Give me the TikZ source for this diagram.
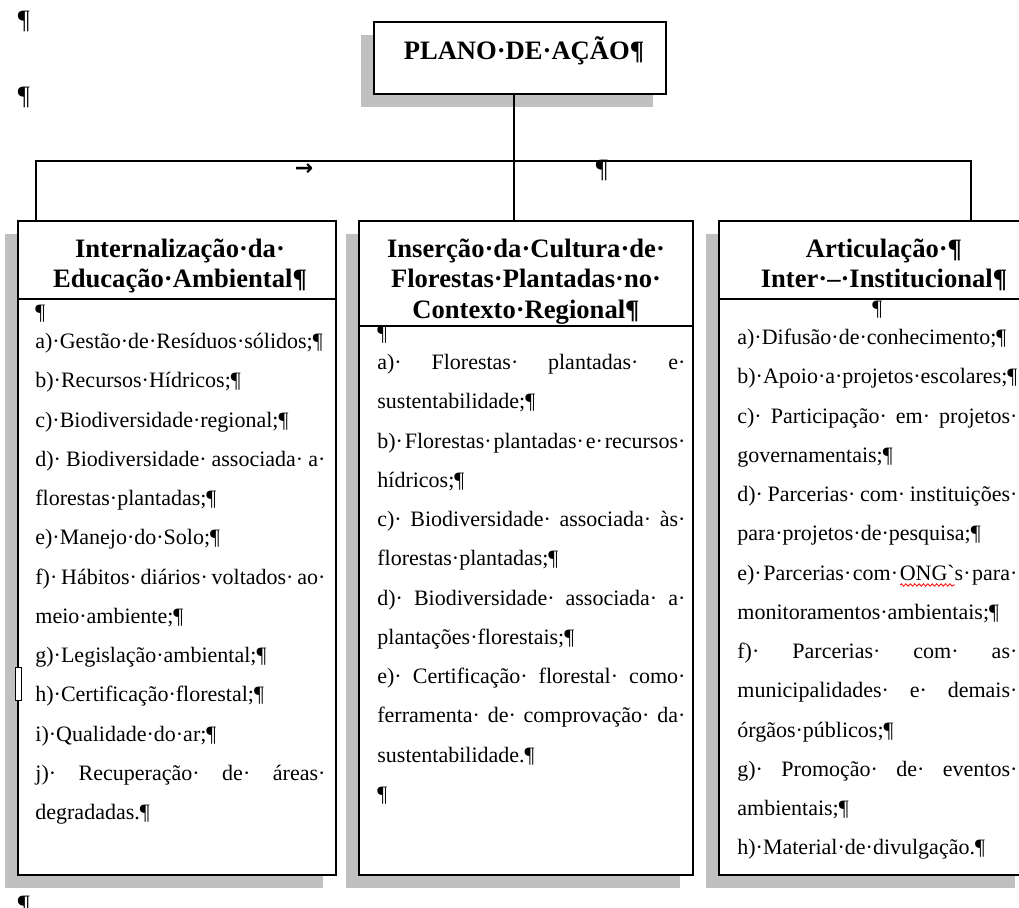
\documentclass[tikz,border=0pt]{standalone}
\usepackage{fontspec}
\setmainfont{Liberation Serif}
\newfontfamily\plainfont{Liberation Serif}
\newfontfamily\arrowfont{DejaVu Sans}
\usetikzlibrary{positioning,shadows,decorations.pathmorphing}

\definecolor{shadegray}{RGB}{192,192,192}
% space mark of the word processor, stretched on justified lines
\newcommand{\sd}{·\hskip 0pt plus 1fil\relax}
\newcommand{\jline}[1]{\par\hbox to\hsize{\strut#1\unskip}}
\newcommand{\pline}[1]{\par\hbox{\strut#1}}
\newcommand{\mline}[1]{\par\hbox to\hsize{\hfil\strut#1\hfil}}
\newlength{\wavelen}
\newcommand{\redwave}[1]{\settowidth{\wavelen}{#1}%
	\rlap{\tikz[baseline=0pt]\draw[red,line width=0.4pt,decorate,
		decoration={snake,amplitude=0.6pt,segment length=2.2pt}]
		(0pt,-2.4pt) -- (\wavelen,-2.4pt);}#1}

\begin{document}
\begin{tikzpicture}[x=0.5pt,y=-0.5pt,
	box/.style={draw=black,line width=0.75pt,fill=white,inner sep=0pt,
		drop shadow={shadow xshift=-6.5pt,shadow yshift=-6.5pt,fill=shadegray,opacity=1}},
	headtext/.style={inner sep=0pt,anchor=north,text width=150pt,align=center,
		font=\bfseries\fontsize{13.3pt}{15.25pt}\selectfont},
	bodytext/.style={inner sep=0pt,anchor=north west,
		font=\fontsize{11pt}{19.625pt}\selectfont},
	link/.style={draw=black,line width=0.7pt},
	rule/.style={draw=black,line width=0.75pt},
	fmark/.style={inner sep=0pt,font=\fontsize{13.3pt}{15pt}\selectfont}]
	\useasboundingbox (0,0) rectangle (1019,908);
	
	% boxes
	\node[box,minimum width=146pt,minimum height=36pt] (plano) at (520,58) {};
	\node[box,minimum width=159pt,minimum height=327pt] (intbox) at (177,548) {};
	\node[box,minimum width=167pt,minimum height=327pt] (insbox) at (526,548) {};
	\node[box,minimum width=154.5pt,minimum height=327pt] (artbox) at (873.5,548) {};
	
	\draw[rule] (intbox.west |- 0,299) -- (intbox.east |- 0,299);
	\draw[rule] (insbox.west |- 0,326) -- (insbox.east |- 0,326);
	\draw[rule] (artbox.west |- 0,299) -- (artbox.east |- 0,299);
	\draw[line width=0.5pt,fill=white] (15.5,668) rectangle (21,701);
	
	% connectors
	\coordinate (barL) at (36,161);
	\coordinate (barR) at (971,161);
	\coordinate (trunk) at (514,161);
	\draw[link] (plano.south -| trunk) -- (trunk) -- (trunk |- insbox.north);
	\draw[link] (barL |- intbox.north) -- (barL) -- (barR) -- (barR |- artbox.north);
	
	% titles
	\node[headtext] (planotitle) at (524,36.6) {\strut PLANO·DE·AÇÃO¶};
	\node[headtext] (inthead) at (180,235.6)
	{\strut Internalização·da·\\\strut Educação·Ambiental¶};
	\node[headtext] (inshead) at (526,235.6)
	{\strut Inserção·da·Cultura·de·\\\strut Florestas·Plantadas·no·\\\strut Contexto·Regional¶};
	\node[headtext] (arthead) at (884,235.6)
	{\strut Articulação·¶\\\strut Inter·–·Institucional¶};
	
	% lists
	\node[bodytext,text width=145pt] (intlist) at (35,280) {%
		\pline{¶}\vspace{-5.1pt}
		\pline{a)\sd Gestão\sd de\sd Resíduos\sd sólidos;¶}
		\pline{b)\sd Recursos\sd Hídricos;¶}
		\pline{c)\sd Biodiversidade\sd regional;¶}
		\jline{d)\sd Biodiversidade\sd associada\sd a\sd}
		\pline{florestas\sd plantadas;¶}
		\pline{e)\sd Manejo\sd do\sd Solo;¶}
		\jline{f)\sd Hábitos\sd diários\sd voltados\sd ao\sd}
		\pline{meio\sd ambiente;¶}
		\pline{g)\sd Legislação\sd ambiental;¶}
		\pline{h)\sd Certificação\sd florestal;¶}
		\pline{i)\sd Qualidade\sd do\sd ar;¶}
		\jline{j)\sd Recuperação\sd de\sd áreas\sd}
		\pline{degradadas.¶}};
	\node[bodytext,text width=154pt] (inslist) at (377,301) {%
		\pline{¶}\vspace{-5.1pt}
		\jline{a)\sd Florestas\sd plantadas\sd e\sd}
		\pline{sustentabilidade;¶}
		\jline{b)\sd Florestas\sd plantadas\sd e\sd recursos\sd}
		\pline{hídricos;¶}
		\jline{c)\sd Biodiversidade\sd associada\sd às\sd}
		\pline{florestas\sd plantadas;¶}
		\jline{d)\sd Biodiversidade\sd associada\sd a\sd}
		\pline{plantações\sd florestais;¶}
		\jline{e)\sd Certificação\sd florestal\sd como\sd}
		\jline{ferramenta\sd de\sd comprovação\sd da\sd}
		\pline{sustentabilidade.¶}
		\pline{¶}};
	\node[bodytext,text width=140pt] (artlist) at (737,276) {%
		\mline{¶}\vspace{-5.1pt}
		\pline{a)\sd Difusão\sd de\sd conhecimento;¶}
		\pline{b)\sd Apoio\sd a\sd projetos\sd escolares;¶}
		\jline{c)\sd Participação\sd em\sd projetos\sd}
		\pline{governamentais;¶}
		\jline{d)\sd Parcerias\sd com\sd instituições\sd}
		\pline{para\sd projetos\sd de\sd pesquisa;¶}
		\jline{e)\sd Parcerias\sd com\sd \redwave{ONG{\plainfont `}}s\sd para\sd}
		\pline{monitoramentos\sd ambientais;¶}
		\jline{f)\sd Parcerias\sd com\sd as\sd}
		\jline{municipalidades\sd e\sd demais\sd}
		\pline{órgãos\sd públicos;¶}
		\jline{g)\sd Promoção\sd de\sd eventos\sd}
		\pline{ambientais;¶}
		\pline{h)\sd Material\sd de\sd divulgação.¶}};
	
	% formatting marks outside the boxes
	\node[fmark] (pilA) at (24,21) {¶};
	\node[fmark] (pilB) at (24,97) {¶};
	\node[fmark] (pilC) at (24,906) {¶};
	\node[fmark] (pilD) at (602,170) {¶};
	\node[inner sep=0pt,font=\arrowfont\bfseries\fontsize{11pt}{12pt}\selectfont] (tabmark) at (304,170) {→};
\end{tikzpicture}
\end{document}
